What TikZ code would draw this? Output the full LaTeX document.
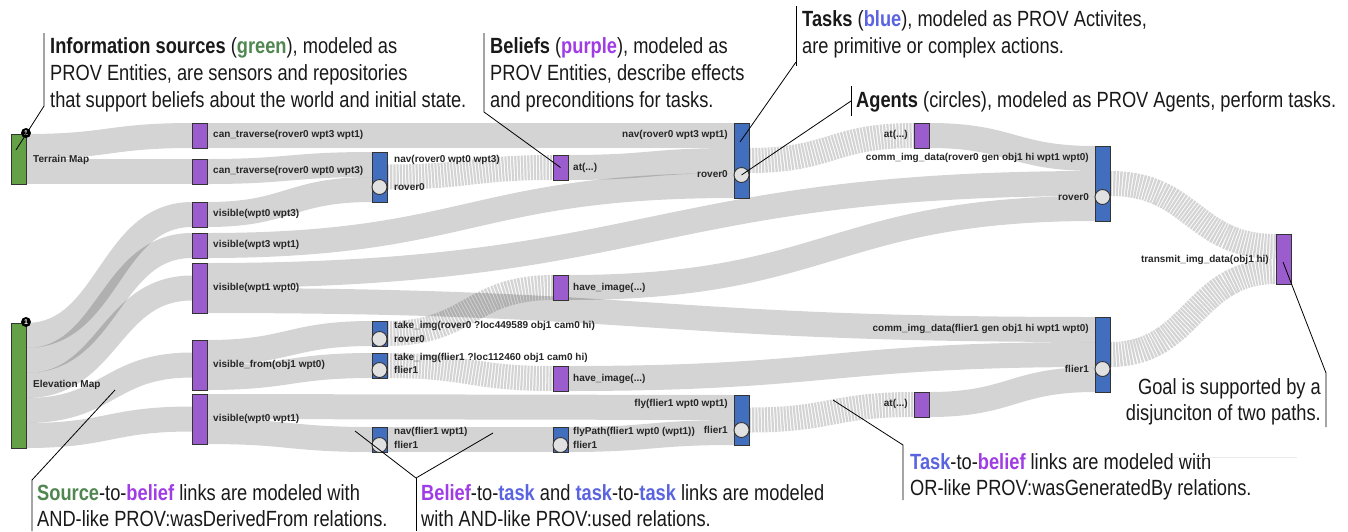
\documentclass[tikz,border=0pt]{standalone}
\usepackage{fontspec}
\setmainfont{Liberation Sans}
\newfontfamily\annfont[FakeStretch=0.83]{Liberation Sans}
\usetikzlibrary{calc}
\pgfdeclarelayer{bg}
\pgfsetlayers{bg,main}
\definecolor{srcg}{RGB}{100,160,70}
\definecolor{belp}{RGB}{155,93,206}
\definecolor{tskb}{RGB}{66,110,190}
\definecolor{agentgray}{RGB}{225,225,225}
\definecolor{kwgreen}{RGB}{80,135,80}
\definecolor{kwpurple}{RGB}{160,60,230}
\definecolor{kwblue}{RGB}{90,100,225}
\tikzset{
  box/.style={draw=black!80, line width=0.9pt, inner sep=0pt, outer sep=0pt, minimum width=15pt, anchor=north west},
  srcbox/.style={box, fill=srcg},
  belbox/.style={box, fill=belp},
  tskbox/.style={box, fill=tskb},
  agent/.style={circle, draw=black!80, line width=0.9pt, fill=agentgray, minimum size=15pt, inner sep=0pt},
  badge/.style={circle, fill=black, minimum size=10pt, inner sep=0pt, text=white, font=\fontsize{7}{7}\selectfont\bfseries},
  lbl/.style={inner sep=0pt, text=black!85, font=\fontsize{10}{12}\selectfont\bfseries},
  lblL/.style={lbl, anchor=west},
  lblR/.style={lbl, anchor=east},
  ann/.style={inner sep=0pt, anchor=base west, text=black!90, font=\annfont\fontsize{22}{27}\selectfont},
  annR/.style={ann, anchor=base east},
  leader/.style={draw=black, line width=0.8pt},
  flowline/.style={draw=black, draw opacity=0.17, line width=25pt},
  striped/.style={dash pattern=on 2.2pt off 1pt},
}
\newcommand\flow[5][]{%
  \draw[flowline,#1] let \p1=([yshift=-#3pt]#2.north east), \p2=([yshift=-#5pt]#4.north west),
    \p3=($(\p1)!0.5!(\p2)$) in (\p1) .. controls (\x3,\y1) and (\x3,\y2) .. (\p2);}
\begin{document}
\begin{tikzpicture}[x=1pt,y=-1pt]
\useasboundingbox (0,0) rectangle (1348,531);
\begin{pgfonlayer}{bg}
\fill[white] (0,0) rectangle (1348,531);
\end{pgfonlayer}

% ---- sources
\node[srcbox, minimum height=50pt] (tm) at (11,134) {};
\node[srcbox, minimum height=125pt] (em) at (11,323) {};
\node[badge] (tmb) at (26,133) {1};
\node[badge] (emb) at (26,322) {1};
% ---- column 1 beliefs
\node[belbox, minimum height=25pt] (ct1) at (192,123) {};
\node[belbox, minimum height=25pt] (ct2) at (192,159) {};
\node[belbox, minimum height=25pt] (v03) at (192,202) {};
\node[belbox, minimum height=25pt] (v31) at (192,233) {};
\node[belbox, minimum height=50pt] (v10) at (192,263) {};
\node[belbox, minimum height=50pt] (vf) at (192,340) {};
\node[belbox, minimum height=50pt] (v01) at (192,394) {};
% ---- column 2 tasks
\node[tskbox, minimum height=50pt] (nav1) at (372,152) {};
\node[tskbox, minimum height=25pt] (ti1) at (372,321) {};
\node[tskbox, minimum height=25pt] (ti2) at (372,353) {};
\node[tskbox, minimum height=25pt] (navf) at (372,427) {};
% ---- column 3
\node[belbox, minimum height=25pt] (at1) at (553,155) {};
\node[belbox, minimum height=25pt] (hi1) at (553,275) {};
\node[belbox, minimum height=25pt] (hi2) at (553,366) {};
\node[tskbox, minimum height=25pt] (fp) at (553,427) {};
% ---- column 4
\node[tskbox, minimum height=75pt] (nav2) at (734,123) {};
\node[tskbox, minimum height=50pt] (fly) at (734,395) {};
% ---- column 5
\node[belbox, minimum height=25pt] (at2) at (914,123) {};
\node[belbox, minimum height=25pt] (at3) at (914,392) {};
% ---- column 6
\node[tskbox, minimum height=75pt] (cr) at (1095,146) {};
\node[tskbox, minimum height=75pt] (cf) at (1095,317) {};
% ---- goal
\node[belbox, minimum height=50pt] (goal) at (1276,234) {};

% ---- agents
\node[agent] (ag1) at ($(nav1.north)+(0,35)$) {};
\node[agent] (ag2) at ($(ti1.north)+(0,18)$) {};
\node[agent] (ag3) at ($(ti2.north)+(0,17)$) {};
\node[agent] (ag4) at ($(navf.north)+(0,18)$) {};
\node[agent] (ag5) at ($(fp.north)+(0,18)$) {};
\node[agent] (ag6) at ($(nav2.north)+(0,52)$) {};
\node[agent] (ag7) at ($(fly.north)+(0,35)$) {};
\node[agent] (ag8) at ($(cr.north)+(0,51)$) {};
\node[agent] (ag9) at ($(cf.north)+(0,52)$) {};

% ---- flows
\begin{pgfonlayer}{bg}
\flow{tm}{12.5}{ct1}{12.5}
\flow{tm}{37.5}{ct2}{12.5}
\flow{em}{12.5}{v03}{12.5}
\flow{em}{37.5}{v31}{12.5}
\flow{em}{62.5}{v10}{25}
\flow{em}{87.5}{vf}{25}
\flow{em}{112.5}{v01}{25}
\flow{ct1}{12.5}{nav2}{12.5}
\flow{ct2}{12.5}{nav1}{12.5}
\flow{v03}{12.5}{nav1}{37.5}
\flow{v31}{12.5}{nav2}{62.5}
\flow{v10}{12.5}{cr}{37.5}
\flow{v10}{37.5}{cf}{12.5}
\flow{vf}{12.5}{ti1}{12.5}
\flow{vf}{37.5}{ti2}{12.5}
\flow{v01}{12.5}{fly}{12.5}
\flow{v01}{37.5}{navf}{12.5}
\flow[striped]{nav1}{25}{at1}{12.5}
\flow{at1}{12.5}{nav2}{37.5}
\flow[striped]{nav2}{37.5}{at2}{12.5}
\flow{at2}{12.5}{cr}{12.5}
\flow[striped]{ti1}{12.5}{hi1}{12.5}
\flow{hi1}{12.5}{cr}{62.5}
\flow[striped]{ti2}{12.5}{hi2}{12.5}
\flow{hi2}{12.5}{cf}{37.5}
\flow{navf}{12.5}{fp}{12.5}
\flow{fp}{12.5}{fly}{37.5}
\flow[striped]{fly}{25}{at3}{12.5}
\flow{at3}{12.5}{cf}{62.5}
\flow[striped]{cr}{37.5}{goal}{12.5}
\flow[striped]{cf}{37.5}{goal}{37.5}
\end{pgfonlayer}

% ---- node labels
\node[lblL] (Ltm) at (33,160) {Terrain Map};
\node[lblL] (Lem) at (33,385) {Elevation Map};
\node[lblL] (Lct1) at (213,135) {can\_traverse(rover0 wpt3 wpt1)};
\node[lblL] (Lct2) at (213,171) {can\_traverse(rover0 wpt0 wpt3)};
\node[lblL] (Lv03) at (213,214) {visible(wpt0 wpt3)};
\node[lblL] (Lv31) at (213,245) {visible(wpt3 wpt1)};
\node[lblL] (Lv10) at (213,288) {visible(wpt1 wpt0)};
\node[lblL] (Lvf) at (213,365) {visible\_from(obj1 wpt0)};
\node[lblL] (Lv01) at (213,419) {visible(wpt0 wpt1)};
\node[lblL] (Lnav1) at (394,160) {nav(rover0 wpt0 wpt3)};
\node[lblL] (Lag1) at (394,187) {rover0};
\node[lblL] (Lti1) at (394,326) {take\_img(rover0 ?loc449589 obj1 cam0 hi)};
\node[lblL] (Lag2) at (394,339) {rover0};
\node[lblL] (Lti2) at (394,358) {take\_img(flier1 ?loc112460 obj1 cam0 hi)};
\node[lblL] (Lag3) at (394,370) {flier1};
\node[lblL] (Lnavf) at (394,432) {nav(flier1 wpt1)};
\node[lblL] (Lag4) at (394,445) {flier1};
\node[lblL] (Lat1) at (573,168) {at(...)};
\node[lblL] (Lhi1) at (573,288) {have\_image(...)};
\node[lblL] (Lhi2) at (573,379) {have\_image(...)};
\node[lblL] (Lfp) at (573,432) {flyPath(flier1 wpt0 (wpt1))};
\node[lblL] (Lag5) at (573,445) {flier1};
\node[lblR] (Lnav2) at (728,135) {nav(rover0 wpt3 wpt1)};
\node[lblR] (Lag6) at (728,174) {rover0};
\node[lblR] (Lfly) at (728,404) {fly(flier1 wpt0 wpt1)};
\node[lblR] (Lag7) at (728,430) {flier1};
\node[lblR] (Lat2) at (908,135) {at(...)};
\node[lblR] (Lat3) at (908,404) {at(...)};
\node[lblR] (Lcr) at (1089,158) {comm\_img\_data(rover0 gen obj1 hi wpt1 wpt0)};
\node[lblR] (Lag8) at (1089,197) {rover0};
\node[lblR] (Lcf) at (1089,329) {comm\_img\_data(flier1 gen obj1 hi wpt1 wpt0)};
\node[lblR] (Lag9) at (1089,369) {flier1};
\node[lblR] (Lgoal) at (1269,260) {transmit\_img\_data(obj1 hi)};

% ---- annotations
\node[ann] (a1a) at (50,53) {\textbf{Information sources} (\textcolor{kwgreen}{\textbf{green}}), modeled as};
\node[ann] (a1b) at (50,80) {PROV Entities, are sensors and repositories};
\node[ann] (a1c) at (50,107) {that support beliefs about the world and initial state.};
\coordinate (b1t) at (44,33); \coordinate (b1b) at (44,106); \coordinate (b1e) at (16,150);
\draw[leader] (b1t) -- (b1b) -- (b1e);

\node[ann] (a2a) at (490,53) {\textbf{Beliefs} (\textcolor{kwpurple}{\textbf{purple}}), modeled as};
\node[ann] (a2b) at (490,80) {PROV Entities, describe effects};
\node[ann] (a2c) at (490,107) {and preconditions for tasks.};
\coordinate (b2t) at (484,33); \coordinate (b2b) at (484,112);
\draw[leader] (b2t) -- (b2b) -- (at1.center);

\node[ann] (a3a) at (802,26) {\textbf{Tasks} (\textcolor{kwblue}{\textbf{blue}}), modeled as PROV Activites,};
\node[ann] (a3b) at (802,53) {are primitive or complex actions.};
\coordinate (b3t) at (796,6); \coordinate (b3b) at (796,66); \coordinate (b3m) at (796,62); \coordinate (b3e) at (740,142);
\draw[leader] (b3t) -- (b3b);
\draw[leader] (b3m) -- (b3e);

\node[ann] (a4a) at (856,107) {\textbf{Agents} (circles), modeled as PROV Agents, perform tasks.};
\coordinate (b4t) at (851,86); \coordinate (b4b) at (851,116); \coordinate (b4m) at (851,101);
\draw[leader] (b4t) -- (b4b);
\draw[leader] (b4m) -- (ag6.center);

\node[annR] (a5a) at (1321,394) {Goal is supported by a};
\node[annR] (a5b) at (1321,420) {disjunciton of two paths.};
\coordinate (b5t) at (1326,373); \coordinate (b5b) at (1326,427); \coordinate (b5e) at (1283,262);
\draw[leader] (b5e) -- (b5t) -- (b5b);

\node[ann] (a6a) at (37,500) {\textcolor{kwgreen}{\textbf{Source}}-to-\textcolor{kwpurple}{\textbf{belief}} links are modeled with};
\node[ann] (a6b) at (37,526) {AND-like PROV:wasDerivedFrom relations.};
\coordinate (b6t) at (32,480); \coordinate (b6b) at (32,531); \coordinate (b6e) at (115,390);
\draw[leader] (b6e) -- (b6t) -- (b6b);

\node[ann] (a7a) at (421,500) {\textcolor{kwpurple}{\textbf{Belief}}-to-\textcolor{kwblue}{\textbf{task}} and \textcolor{kwblue}{\textbf{task}}-to-\textcolor{kwblue}{\textbf{task}} links are modeled};
\node[ann] (a7b) at (421,526) {with AND-like PROV:used relations.};
\coordinate (b7t) at (416,478); \coordinate (b7b) at (416,531); \coordinate (b7l) at (355,431); \coordinate (b7r) at (493,433);
\draw[leader] (b7l) -- (b7t) -- (b7r);
\draw[leader] (b7t) -- (b7b);

\node[ann] (a8a) at (910,469) {\textcolor{kwblue}{\textbf{Task}}-to-\textcolor{kwpurple}{\textbf{belief}} links are modeled with};
\node[ann] (a8b) at (910,495) {OR-like PROV:wasGeneratedBy relations.};
\coordinate (b8t) at (903,445); \coordinate (b8b) at (903,500); \coordinate (b8e) at (833,400);
\draw[leader] (b8e) -- (b8t) -- (b8b);
\coordinate (f1) at (1173,457); \coordinate (f2) at (1297,457);
\draw[black!8, line width=0.6pt] (f1) -- (f2);
\end{tikzpicture}
\end{document}
